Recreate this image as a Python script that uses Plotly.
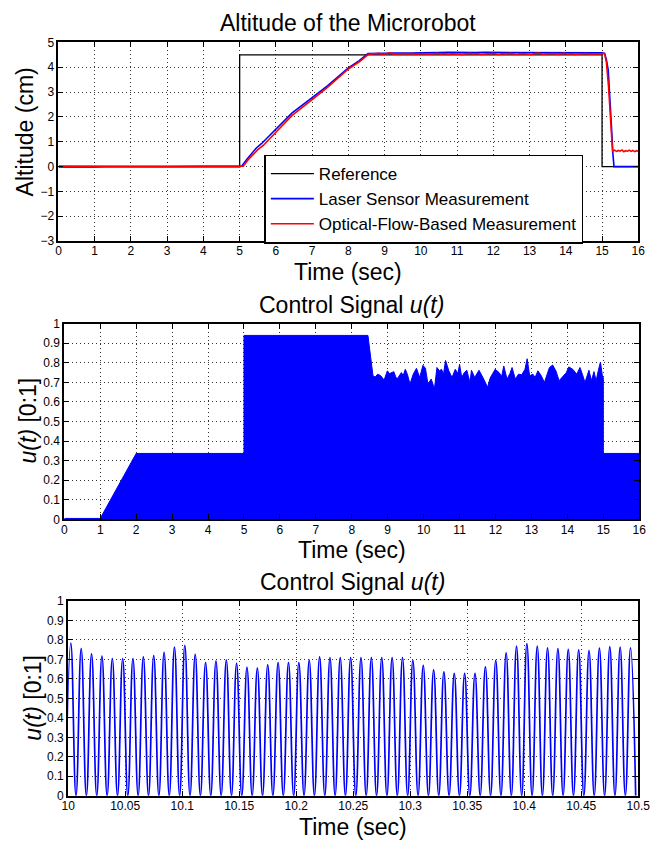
import plotly.graph_objects as go

FONT = "Liberation Sans"

# ---------------- Data: Altitude (top) ----------------
ref_t = [0, 5.0, 5.0, 15.0, 15.0, 16.0]
ref_alt = [0, 0, 4.5, 4.5, 0, 0]

laser_t = [0, 0.5, 1.0, 1.3, 2.0, 3.0, 4.0, 5.0, 5.06, 5.2, 5.46, 5.6, 6.0, 6.44, 7.0, 7.43, 8.0, 8.3, 8.54,
           8.8, 9.0, 9.25, 9.5, 9.75, 10.0, 10.25, 10.5, 10.75, 11.0, 11.25, 11.5, 11.75, 12.0, 12.25, 12.5,
           12.75, 13.0, 13.25, 13.5, 13.75, 14.0, 14.25, 14.5, 14.75, 15.0, 15.07, 15.12, 15.17, 15.22, 15.26,
           15.30, 15.33, 16.0]
laser_alt = [-0.02, -0.03, -0.02, -0.01, 0.0, 0.0, 0.0, 0.0, 0.02, 0.3, 0.75, 0.92, 1.5, 2.15, 2.78, 3.26, 3.97, 4.27, 4.55,
             4.57, 4.56, 4.57, 4.56, 4.57, 4.58, 4.57, 4.59, 4.60, 4.59, 4.60, 4.59, 4.60, 4.60, 4.59, 4.60,
             4.59, 4.58, 4.59, 4.58, 4.59, 4.60, 4.59, 4.60, 4.59, 4.58, 4.56, 4.30, 3.90, 2.80, 1.60,
             0.50, 0.0, 0.0]

optical_t = [0, 1.0, 2.0, 3.0, 4.0, 5.0, 5.1, 5.25, 5.5, 5.65, 6.0, 6.44, 7.0, 7.43, 8.0, 8.3, 8.55,
             8.65, 8.75, 8.85, 8.95, 9.05, 9.15, 9.25, 9.35, 9.45, 9.55, 9.65, 9.75, 9.85, 9.95, 10.05, 10.15,
             10.25, 10.35, 10.45, 10.55, 10.65, 10.75, 10.85, 10.95, 11.05, 11.15, 11.25, 11.35, 11.45, 11.55,
             11.65, 11.75, 11.85, 11.95, 12.05, 12.15, 12.25, 12.35, 12.45, 12.55, 12.65, 12.75, 12.85, 12.95,
             13.05, 13.15, 13.25, 13.35, 13.45, 13.55, 13.65, 13.75, 13.85, 13.95, 14.05, 14.15, 14.25, 14.35,
             14.45, 14.55, 14.65, 14.75, 14.85, 14.95, 15.07, 15.12, 15.18, 15.23, 15.27, 15.29,
             15.35, 15.4, 15.45, 15.5, 15.55, 15.6, 15.65, 15.7, 15.75, 15.8, 15.85, 15.9, 15.95, 16.0]
optical_alt = [0.02, 0.01, 0.02, 0.01, 0.02, 0.02, 0.02, 0.3, 0.68, 0.85, 1.4, 2.05, 2.7, 3.2, 3.93, 4.22, 4.52,
               4.54, 4.53, 4.56, 4.52, 4.55, 4.58, 4.53, 4.54, 4.52, 4.55, 4.53, 4.56, 4.52, 4.54, 4.55, 4.53,
               4.52, 4.54, 4.56, 4.53, 4.55, 4.52, 4.54, 4.53, 4.55, 4.52, 4.54, 4.56, 4.53, 4.55, 4.52,
               4.54, 4.53, 4.55, 4.54, 4.52, 4.55, 4.53, 4.56, 4.54, 4.52, 4.55, 4.53, 4.54,
               4.52, 4.55, 4.57, 4.53, 4.54, 4.52, 4.55, 4.53, 4.54, 4.56, 4.53, 4.55, 4.52, 4.54,
               4.53, 4.55, 4.54, 4.53, 4.55, 4.54, 4.55, 4.20, 3.20, 1.90, 0.90, 0.62,
               0.66, 0.61, 0.65, 0.62, 0.67, 0.60, 0.64, 0.62, 0.66, 0.61, 0.65, 0.60, 0.64, 0.62]

# ---------------- Data: Control signal envelope (middle) ----------------
env_t = [0, 1.0, 2.0, 5.0, 5.0, 8.45, 8.59, 8.65, 8.72, 8.80, 8.90, 8.99, 9.05, 9.17, 9.22, 9.26, 9.38, 9.43,
         9.49, 9.55, 9.62, 9.71, 9.80, 9.85, 9.89, 9.98, 10.05, 10.12, 10.21, 10.30, 10.37, 10.44, 10.50, 10.55,
         10.61, 10.70, 10.79, 10.88, 10.95, 11.00, 11.06, 11.13, 11.20, 11.29, 11.33, 11.42, 11.48, 11.54,
         11.65, 11.78, 11.85, 11.92, 11.99, 12.10, 12.17, 12.23, 12.32, 12.40, 12.46, 12.55, 12.64, 12.73,
         12.82, 12.88, 12.95, 13.04, 13.10, 13.18, 13.27, 13.36, 13.50, 13.59, 13.68, 13.77, 13.90, 13.97,
         14.04, 14.15, 14.26, 14.35, 14.42, 14.49, 14.60, 14.67, 14.74, 14.80, 14.86, 14.92, 14.98, 15.0,
         15.0, 16.0]
env_u = [0.005, 0.005, 0.337, 0.337, 0.94, 0.94, 0.734, 0.727, 0.742, 0.735, 0.712, 0.759, 0.745, 0.755, 0.730,
         0.717, 0.750, 0.735, 0.767, 0.740, 0.692, 0.742, 0.772, 0.740, 0.725, 0.787, 0.772, 0.692, 0.717,
         0.667, 0.776, 0.760, 0.767, 0.740, 0.812, 0.759, 0.725, 0.767, 0.745, 0.792, 0.725, 0.750, 0.762,
         0.700, 0.762, 0.725, 0.745, 0.762, 0.725, 0.675, 0.722, 0.745, 0.767, 0.750, 0.730, 0.784, 0.717,
         0.745, 0.776, 0.717, 0.742, 0.739, 0.767, 0.821, 0.734, 0.742, 0.725, 0.759, 0.735, 0.700, 0.776,
         0.789, 0.759, 0.709, 0.734, 0.750, 0.779, 0.767, 0.742, 0.776, 0.740, 0.700, 0.762, 0.709, 0.755,
         0.709, 0.760, 0.804, 0.725, 0.725, 0.337, 0.337]

# ---------------- Data: Control signal zoom (bottom) ----------------
peak_t = [10.0023, 10.0114, 10.0205, 10.0296, 10.0387, 10.0478, 10.0568, 10.0659, 10.0750, 10.0841,
          10.0932, 10.1023, 10.1114, 10.1205, 10.1296, 10.1387, 10.1477, 10.1568, 10.1659, 10.1750,
          10.1841, 10.1932, 10.2023, 10.2114, 10.2205, 10.2296, 10.2386, 10.2477, 10.2568, 10.2659,
          10.2750, 10.2841, 10.2932, 10.3023, 10.3114, 10.3205, 10.3295, 10.3386, 10.3477, 10.3568,
          10.3659, 10.3750, 10.3841, 10.3932, 10.4023, 10.4114, 10.4204, 10.4295, 10.4386, 10.4477,
          10.4568, 10.4659, 10.4750, 10.4841, 10.4932]
peak_u = [0.784, 0.756, 0.729, 0.717, 0.705, 0.705, 0.705, 0.713, 0.720, 0.737,
          0.763, 0.773, 0.726, 0.684, 0.692, 0.697, 0.680, 0.659, 0.655, 0.672,
          0.684, 0.684, 0.684, 0.697, 0.713, 0.709, 0.709, 0.709, 0.709, 0.709,
          0.709, 0.709, 0.709, 0.695, 0.670, 0.646, 0.636, 0.628, 0.628, 0.628,
          0.662, 0.695, 0.734, 0.768, 0.781, 0.768, 0.759, 0.756, 0.752, 0.749,
          0.746, 0.758, 0.766, 0.763, 0.759]
trough_t = [9.9977] + [(a + b) / 2 for a, b in zip(peak_t[:-1], peak_t[1:])] + [10.4977]
trough_u = [0.0] * len(trough_t)

# interleave troughs and peaks
zoom_t, zoom_u = [], []
for i in range(len(peak_t)):
    zoom_t += [trough_t[i], peak_t[i]]
    zoom_u += [trough_u[i], peak_u[i]]
zoom_t.append(trough_t[-1])
zoom_u.append(trough_u[-1])

x_ticks_top = list(range(0, 17))
y_ticks_top = list(range(-3, 6))
y_ticks_u = [round(0.1 * i, 1) for i in range(11)]
y_tick_u_labels = ["0", "0.1", "0.2", "0.3", "0.4", "0.5", "0.6", "0.7", "0.8", "0.9", "1"]
x_ticks_zoom = [10, 10.05, 10.1, 10.15, 10.2, 10.25, 10.3, 10.35, 10.4, 10.45, 10.5]
x_tick_zoom_labels = ["10", "10.05", "10.1", "10.15", "10.2", "10.25", "10.3", "10.35", "10.4", "10.45", "10.5"]

BLUE = "rgb(0,0,255)"
RED = "rgb(255,0,0)"

fig = go.Figure()
fig.add_trace(go.Scatter(x=ref_t, y=ref_alt, mode="lines", name="Reference",
                         line=dict(color="black", width=1.3), xaxis="x", yaxis="y"))
fig.add_trace(go.Scatter(x=laser_t, y=laser_alt, mode="lines", name="Laser Sensor Measurement",
                         line=dict(color=BLUE, width=1.6), xaxis="x", yaxis="y"))
fig.add_trace(go.Scatter(x=optical_t, y=optical_alt, mode="lines", name="Optical-Flow-Based Measurement",
                         line=dict(color=RED, width=1.6), xaxis="x", yaxis="y"))
fig.add_trace(go.Scatter(x=env_t, y=env_u, mode="lines", fill="tozeroy", fillcolor=BLUE,
                         line=dict(color=BLUE, width=1), showlegend=False, xaxis="x2", yaxis="y2"))
fig.add_trace(go.Scatter(x=zoom_t, y=zoom_u, mode="lines",
                         line=dict(color=BLUE, width=1.7, shape="spline", smoothing=1.3),
                         showlegend=False, xaxis="x3", yaxis="y3"))

W, H = 660, 848


def px_x(p):
    return p / W


def px_y(p):
    return 1 - p / H


axis_base = dict(showline=True, linecolor="black", linewidth=2, mirror="ticks", ticks="inside",
                 ticklen=5, tickwidth=1.2, tickcolor="black", showgrid=True, gridcolor="#333333",
                 griddash="1px,3px", gridwidth=1, zeroline=False,
                 tickfont=dict(family=FONT, size=12, color="black"))
xaxis_extra = dict(ticklabelstandoff=-2)

fig.update_layout(
    width=W, height=H, margin=dict(l=0, r=0, t=0, b=0),
    paper_bgcolor="white", plot_bgcolor="white",
    font=dict(family=FONT, color="black"),
    showlegend=True,
    legend=dict(x=px_x(265), y=px_y(150), xanchor="left", yanchor="top",
                bgcolor="white", bordercolor="black", borderwidth=1.5,
                font=dict(family=FONT, size=17, color="black"), itemwidth=43, tracegroupgap=0),
    xaxis=dict(axis_base, **xaxis_extra, domain=[px_x(53), px_x(650)], range=[0, 16],
               tickvals=x_ticks_top, anchor="y"),
    yaxis=dict(axis_base, domain=[px_y(238), px_y(36)], range=[-3, 5], tickvals=y_ticks_top, anchor="x"),
    xaxis2=dict(axis_base, **xaxis_extra, domain=[px_x(59), px_x(651)], range=[0, 16],
                tickvals=x_ticks_top, anchor="y2"),
    yaxis2=dict(axis_base, domain=[px_y(521), px_y(322)], range=[0, 1], tickvals=y_ticks_u,
                ticktext=y_tick_u_labels, anchor="x2"),
    xaxis3=dict(axis_base, **xaxis_extra, domain=[px_x(63), px_x(650)], range=[10, 10.5],
                tickvals=x_ticks_zoom, ticktext=x_tick_zoom_labels, anchor="y3"),
    yaxis3=dict(axis_base, domain=[px_y(802), px_y(604)], range=[0, 1], tickvals=y_ticks_u,
                ticktext=y_tick_u_labels, anchor="x3"),
)

TF = dict(family=FONT, size=23, color="black")
annotations = [
    dict(text="Altitude of the Microrobot", x=px_x(351), y=px_y(16)),
    dict(text="Control Signal <i>u(t)</i>", x=px_x(355), y=px_y(303)),
    dict(text="Control Signal <i>u(t)</i>", x=px_x(356), y=px_y(585)),
    dict(text="Time (sec)", x=px_x(351), y=px_y(269)),
    dict(text="Time (sec)", x=px_x(355), y=px_y(552)),
    dict(text="Time (sec)", x=px_x(356), y=px_y(834)),
    dict(text="Altitude (cm)", x=px_x(18), y=px_y(127), textangle=-90),
    dict(text="<i>u(t)</i> [0:1]", x=px_x(22), y=px_y(420), textangle=-90),
    dict(text="<i>u(t)</i> [0:1]", x=px_x(27), y=px_y(702), textangle=-90),
]
for a in annotations:
    a.update(xref="paper", yref="paper", xanchor="center", yanchor="middle", showarrow=False, font=TF)
fig.update_layout(annotations=annotations)

fig.write_html("out.html")
